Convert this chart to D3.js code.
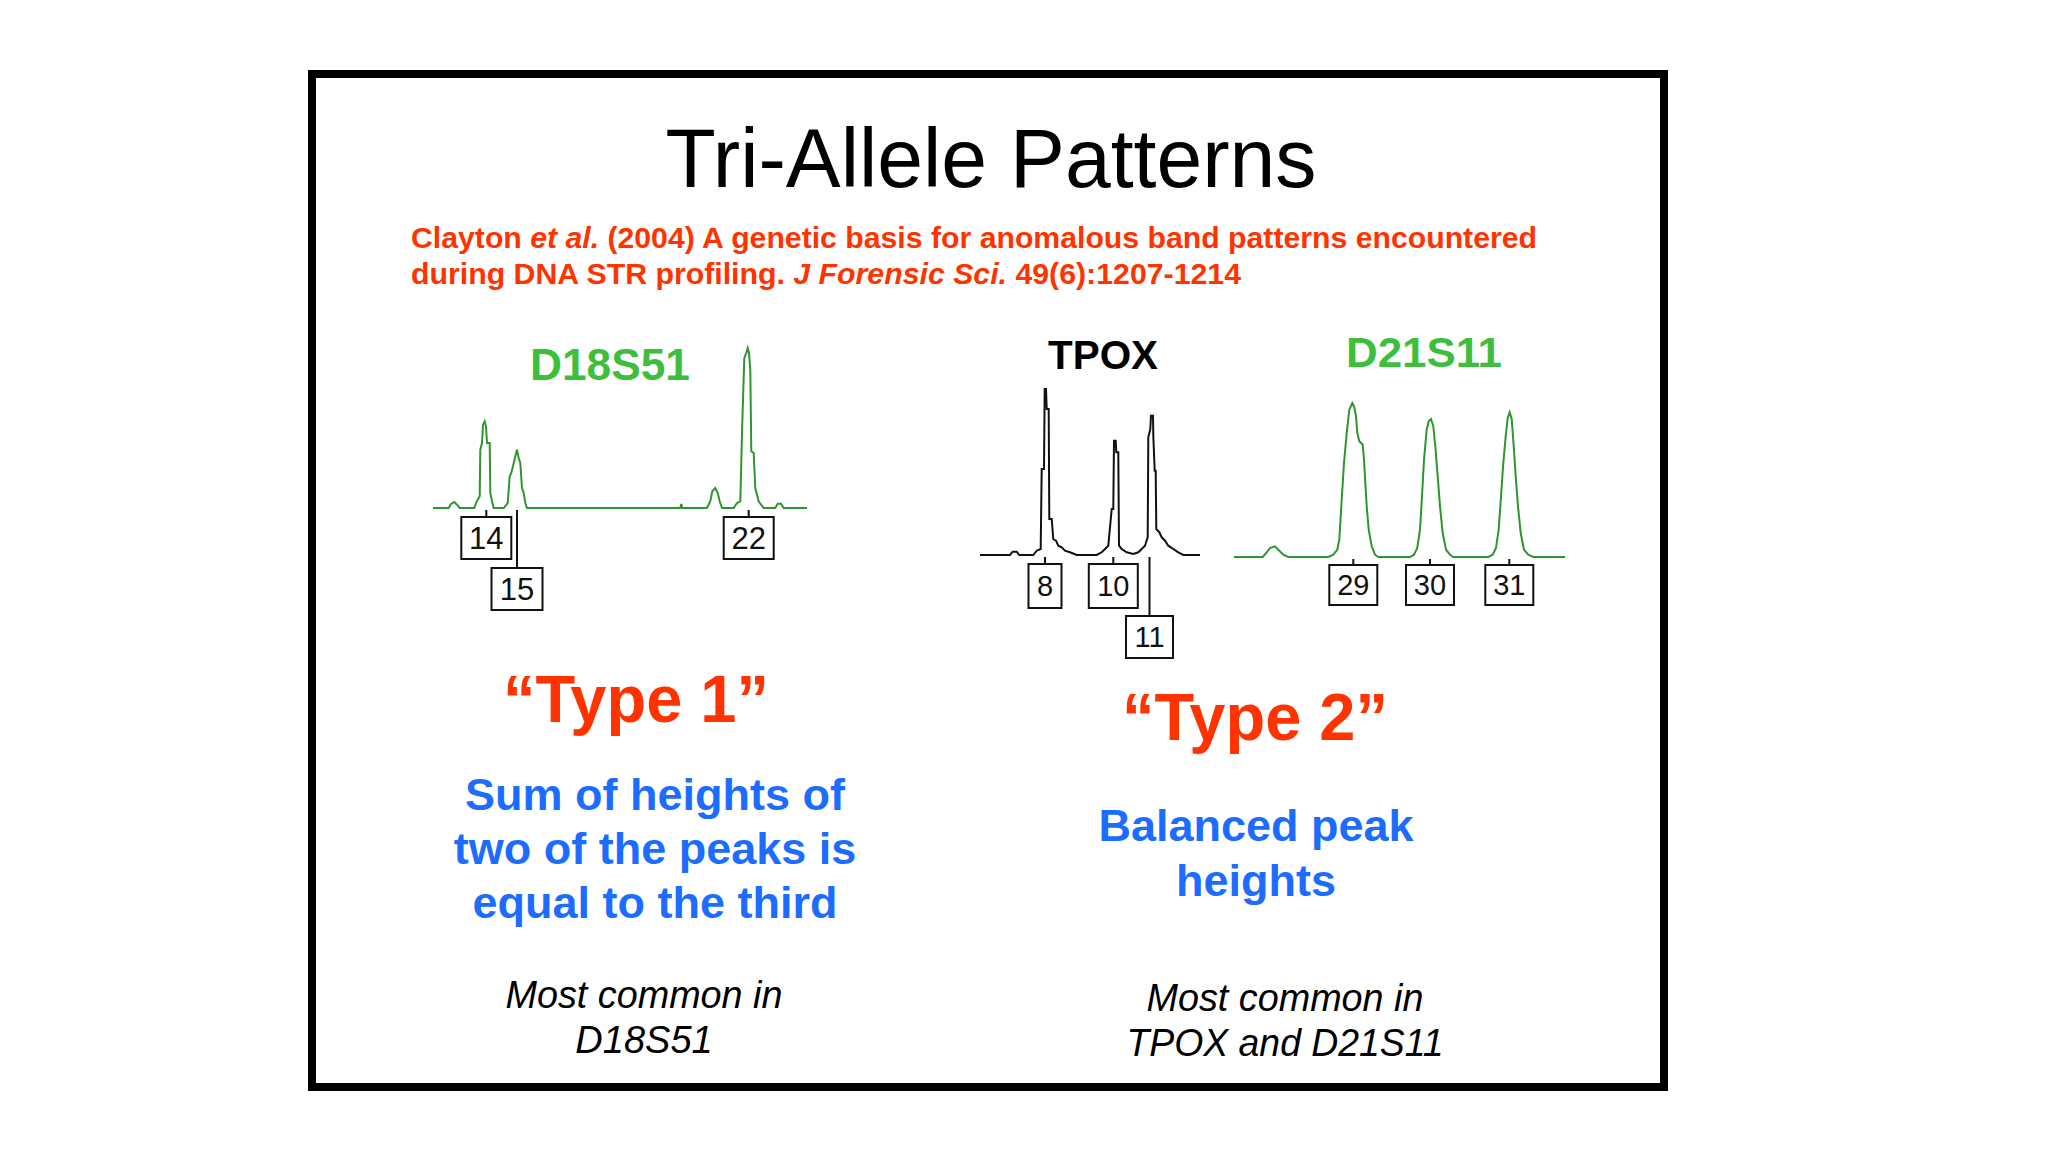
<!DOCTYPE html>
<html><head><meta charset="utf-8">
<script src="https://cdn.jsdelivr.net/npm/d3@7"></script>
<style>
body{margin:0;background:#fff}
svg{display:block}
text{font-family:"Liberation Sans",Arial,Helvetica,sans-serif}
</style>
</head><body>
<svg id="c" width="2048" height="1152"></svg>
<script>
// ---------------- DATA (scan index, RFU) ----------------
const d18s51Trace = [[0,0],[15.7,0],[18.0,40],[21.3,60],[24.0,33],[26.7,0],[41.3,0],[43.3,57],[46.7,117],[47.3,583],[49.0,650],[50.0,833],[51.7,867],[53.0,817],[54.0,650],[56.7,650],[57.3,150],[59.0,67],[60.7,0],[70.7,0],[74.7,50],[76.7,317],[78.3,350],[80.0,417],[82.3,517],[84.0,583],[85.7,500],[87.3,450],[89.0,200],[90.7,150],[92.3,50],[94.0,0],[247.3,0],[248.3,40],[249.3,0],[274.0,0],[277.3,67],[279.3,167],[282.3,200],[284.7,150],[286.7,67],[289.0,0],[300.7,0],[304.0,50],[307.3,67],[309.0,750],[311.3,1500],[313.3,1550],[314.7,1600],[316.0,1550],[317.3,1383],[318.3,567],[320.7,550],[322.3,200],[325.7,67],[328.0,33],[330.7,0],[342.3,0],[344.7,43],[348.0,43],[350.7,0],[374.0,0]];
const d18s51Alleles = ["14","15","22"];
const d18s51AlleleScans = [53.3,84.0,315.7];

const tpoxTrace = [[0,0],[30,0],[32.7,33],[36.7,33],[39.3,0],[53.3,0],[56.7,43],[60.7,60],[61.7,860],[64.0,860],[64.7,1660],[66.0,1660],[66.7,1460],[68.7,1460],[69.3,360],[71.7,360],[73.3,160],[76.0,143],[78.3,93],[81.7,77],[85.0,43],[90.0,27],[96.7,0],[116.7,0],[121.7,27],[125.0,60],[128.3,93],[131.7,460],[133.3,460],[134.0,1143],[135.7,1143],[136.3,1027],[138.3,1027],[139.0,93],[141.7,60],[146.7,27],[153.3,10],[158.3,27],[161.7,60],[165.0,93],[167.7,177],[168.3,1177],[170.3,1260],[171.0,1393],[173.0,1393],[173.3,1193],[174.7,843],[175.7,843],[176.3,260],[179.3,227],[181.7,177],[185.0,143],[188.3,93],[193.3,60],[198.3,27],[203.3,0],[220,0]];
const tpoxAlleles = ["8","10","11"];
const tpoxAlleleScans = [65.0,133.3,169.5];

const d21s11Trace = [[0,0],[28.7,0],[32.7,47],[36.0,90],[41.0,107],[44.3,73],[49.3,23],[54.3,0],[94.3,0],[99.3,23],[103.3,73],[105.3,173],[107.7,573],[110.0,940],[112.7,1240],[115.3,1473],[118.3,1540],[120.3,1500],[122.0,1407],[123.3,1240],[125.3,1157],[128.7,1123],[130.0,973],[131.3,740],[132.7,507],[134.7,273],[137.7,107],[141.0,23],[144.3,0],[176.0,0],[180.0,23],[183.3,90],[186.0,273],[188.0,607],[190.0,973],[192.7,1273],[194.7,1357],[197.0,1380],[199.3,1307],[201.3,1107],[203.7,807],[206.0,507],[208.7,240],[212.0,73],[216.0,23],[219.3,0],[254.3,0],[258.7,23],[262.0,90],[264.7,273],[267.0,607],[269.3,940],[271.7,1207],[273.7,1390],[275.7,1447],[277.7,1380],[279.7,1107],[281.7,807],[284.0,507],[286.7,240],[290.0,73],[294.3,23],[299.3,0],[331,0]];
const d21s11Alleles = ["29","30","31"];
const d21s11AlleleScans = [119.3,196.0,275.3];

const titleText = "Tri-Allele Patterns";
const citationLine1 = [["Clayton ",false],["et al.",true],[" (2004) A genetic basis for anomalous band patterns encountered",false]];
const citationLine2 = [["during DNA STR profiling. ",false],["J Forensic Sci.",true],[" 49(6):1207-1214",false]];
const typeLabels = ["\u201CType 1\u201D","\u201CType 2\u201D"];
const type1Desc = ["Sum of heights of","two of the peaks is","equal to the third"];
const type2Desc = ["Balanced peak","heights"];
const type1Note = ["Most common in","D18S51"];
const type2Note = ["Most common in","TPOX and D21S11"];

// ---------------- DRAW ----------------
const svg = d3.select("#c");
svg.append("rect").attr("width",2048).attr("height",1152).attr("fill","#fff");
svg.append("rect").attr("x",312).attr("y",74).attr("width",1352).attr("height",1013)
  .attr("fill","none").attr("stroke","#000").attr("stroke-width",8);

function txt(x,y,s,opts){
  const t = svg.append("text").attr("x",x).attr("y",y).text(s)
    .attr("font-size",opts.size).attr("fill",opts.fill||"#000")
    .attr("text-anchor",opts.anchor||"middle")
    .attr("font-weight",opts.weight||"normal")
    .attr("font-style",opts.style||"normal");
  if(opts.len){ t.attr("textLength",opts.len).attr("lengthAdjust","spacingAndGlyphs"); }
  return t;
}

txt(991,187,titleText,{size:84,len:651});

function citation(parts,y,len){
  const t = svg.append("text").attr("x",411).attr("y",y).attr("font-size",29)
    .attr("font-weight","bold").attr("fill","#FF3300")
    .attr("textLength",len).attr("lengthAdjust","spacingAndGlyphs");
  parts.forEach(p=>{ t.append("tspan").attr("font-style",p[1]?"italic":"normal").text(p[0]); });
}
citation(citationLine1,248,1126);
citation(citationLine2,284,830);

const panels = [
  {name:"D18S51", nameColor:"#3DBE3D", nameX:610, nameY:380, nameSize:45, nameLen:160,
   trace:d18s51Trace, alleles:d18s51Alleles, scans:d18s51AlleleScans, color:"#2E962E",
   xDom:[0,374], x0:433, x1:807, yMax:1600, base:508, top:348,
   gap:9, lowGap:60, lowered:[1], boxW:[50,51,50], boxH:[42,42,42], fs:31},
  {name:"TPOX", nameColor:"#000", nameX:1103, nameY:369, nameSize:40, nameLen:110,
   trace:tpoxTrace, alleles:tpoxAlleles, scans:tpoxAlleleScans, color:"#111",
   xDom:[0,220], x0:980, x1:1200, yMax:1660, base:555, top:389,
   gap:9, lowGap:61, lowered:[2], boxW:[33,49,47], boxH:[44,44,42], fs:29},
  {name:"D21S11", nameColor:"#3DBE3D", nameX:1424, nameY:367, nameSize:42, nameLen:156,
   trace:d21s11Trace, alleles:d21s11Alleles, scans:d21s11AlleleScans, color:"#2E962E",
   xDom:[0,331], x0:1234, x1:1565, yMax:1540, base:557, top:403,
   gap:8, lowGap:60, lowered:[], boxW:[48,48,48], boxH:[40,40,40], fs:29}
];

panels.forEach(p=>{
  const x = d3.scaleLinear().domain(p.xDom).range([p.x0,p.x1]);
  const y = d3.scaleLinear().domain([0,p.yMax]).range([p.base,p.top]);
  const line = d3.line().x(d=>x(d[0])).y(d=>y(d[1]));
  txt(p.nameX,p.nameY,p.name,{size:p.nameSize,weight:"bold",fill:p.nameColor,len:p.nameLen});
  svg.append("path").attr("d",line(p.trace)).attr("fill","none")
    .attr("stroke",p.color).attr("stroke-width",2).attr("stroke-linejoin","miter");
  p.alleles.forEach((a,i)=>{
    const cx = x(p.scans[i]);
    const low = p.lowered.includes(i);
    const top = p.base + (low ? p.lowGap : p.gap);
    const w = p.boxW[i], h = p.boxH[i];
    svg.append("line").attr("x1",cx).attr("x2",cx).attr("y1",p.base+2).attr("y2",top)
      .attr("stroke","#111").attr("stroke-width",2);
    svg.append("rect").attr("x",cx-w/2).attr("y",top).attr("width",w).attr("height",h)
      .attr("fill","#fff").attr("stroke","#111").attr("stroke-width",2);
    txt(cx,top+h/2+p.fs*0.36,a,{size:p.fs,fill:"#111"});
  });
});

txt(636,722,typeLabels[0],{size:66,weight:"bold",fill:"#FF3300",len:266});
txt(1255,740,typeLabels[1],{size:66,weight:"bold",fill:"#FF3300",len:266});

const blue = "#1C6DFF";
type1Desc.forEach((s,i)=>txt(655,810+i*54,s,{size:45,weight:"bold",fill:blue}));
type2Desc.forEach((s,i)=>txt(1256,841+i*55,s,{size:45,weight:"bold",fill:blue}));

txt(644,1008,type1Note[0],{size:38,style:"italic",len:277});
txt(644,1053,type1Note[1],{size:38,style:"italic"});
txt(1285,1011,type2Note[0],{size:38,style:"italic",len:277});
txt(1285,1056,type2Note[1],{size:38,style:"italic",len:317});
</script>
</body></html>
